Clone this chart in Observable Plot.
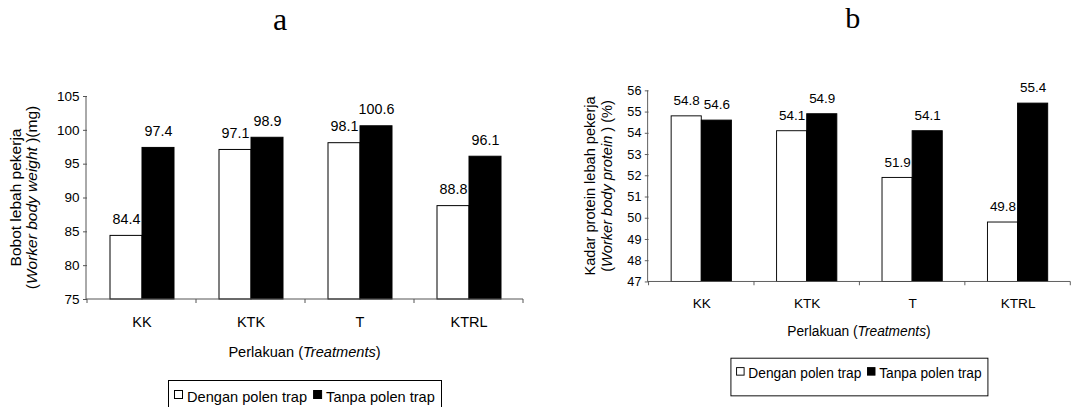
<!DOCTYPE html>
<html>
<head>
<meta charset="utf-8">
<script src="https://cdn.jsdelivr.net/npm/d3@7"></script>
<script src="https://cdn.jsdelivr.net/npm/@observablehq/plot@0.6"></script>
<style>
  html, body { margin: 0; padding: 0; background: #fff; overflow: hidden; }
  #wrap { position: relative; width: 1091px; height: 407px; overflow: hidden; background: #fff; }
  .panel { position: absolute; top: 0; }
  .panel svg { overflow: visible; }
</style>
</head>
<body>
<div id="wrap">
  <div class="panel" id="pa" style="left:0px"></div>
  <div class="panel" id="pb" style="left:545px"></div>
</div>
<script>
// ---- data ----
const categories = ["KK", "KTK", "T", "KTRL"];
const seriesNames = ["Dengan polen trap", "Tanpa polen trap"];
const weightDengan = [84.4, 97.1, 98.1, 88.8];
const weightTanpa = [97.4, 98.9, 100.6, 96.1];
const proteinDengan = [54.8, 54.1, 51.9, 49.8];
const proteinTanpa = [54.6, 54.9, 54.1, 55.4];
const weightTicks = [75, 80, 85, 90, 95, 100, 105];
const proteinTicks = [47, 48, 49, 50, 51, 52, 53, 54, 55, 56];
const titleA = "a";
const titleB = "b";
const yLabelA = [["Bobot lebah pekerja", false], ["(", false], ["Worker body weight", true], [" )(mg)", false]];
const yLabelB = [["Kadar protein lebah pekerja", false], ["(", false], ["Worker body protein", true], [" ) (%)", false]];
const xLabel = [["Perlakuan (", false], ["Treatments", true], [")", false]];

const FONT = "'Liberation Sans', Arial, Helvetica, sans-serif";
const AXIS = "#555";

function buildRows(dengan, tanpa) {
  const rows = [];
  categories.forEach((c, i) => {
    rows.push({cat: c, series: seriesNames[0], value: dengan[i]});
    rows.push({cat: c, series: seriesNames[1], value: tanpa[i]});
  });
  return rows;
}

function panel(el, opts) {
  const {dengan, tanpa, domain, ticks, width, marginLeft, marginRight, title, titleX, yLabel, yLabelX1, yLabelX2} = opts;
  const height = 407, marginTop = 96, marginBottom = 108;
  const rows = buildRows(dengan, tanpa);
  const chart = Plot.plot({
    width, height, marginTop, marginBottom, marginLeft, marginRight,
    style: {fontFamily: FONT, fontSize: "13.5px", background: "transparent", color: "#000"},
    fx: {domain: categories, padding: 0, label: null, axis: "bottom", tickSize: 0, tickPadding: 17},
    x: {domain: seriesNames, paddingInner: 0, paddingOuter: 0.7, axis: null},
    y: {domain, clamp: true, ticks, tickSize: 4, tickPadding: 4, label: null, tickFormat: d => String(d)},
    color: {domain: seriesNames, range: ["#ffffff", "#000000"]},
    marks: [
      Plot.barY(rows, {fx: "cat", x: "series", y: "value", fill: "series", stroke: "#000", strokeWidth: 1}),
      Plot.text(rows, {fx: "cat", x: "series", y: "value", text: d => d.value.toFixed(1), lineAnchor: "bottom", dy: -12, fontSize: 14.3, fill: "#000"})
    ]
  });
  el.appendChild(chart);
  const svg = d3.select(chart);
  // category labels a bit larger
  svg.selectAll("[aria-label='fx-axis tick label'] text").attr("font-size", 14.5);
  svg.selectAll("[aria-label='fx-axis tick label']").attr("font-size", 14.5);
  svg.selectAll("[aria-label='y-axis tick'] path, [aria-label='y-axis tick'] line").attr("stroke", AXIS);
  const fx = chart.scale("fx");
  const y = chart.scale("y");
  const y0 = y.apply(domain[0]), y1 = y.apply(domain[1]);
  const x0 = marginLeft, x1 = width - marginRight;
  const g = svg.append("g").attr("font-family", FONT).attr("text-anchor", "start");
  // axis lines
  g.append("line").attr("x1", x0).attr("x2", x0).attr("y1", y1).attr("y2", y0).attr("stroke", AXIS);
  g.append("line").attr("x1", x0).attr("x2", x1).attr("y1", y0).attr("y2", y0).attr("stroke", AXIS);
  // category boundary ticks
  const bounds = [fx.apply(categories[0])].concat(categories.map(c => fx.apply(c) + fx.bandwidth));
  bounds.forEach(b => g.append("line").attr("x1", b).attr("x2", b).attr("y1", y0).attr("y2", y0 + 4).attr("stroke", AXIS));
  // title
  g.append("text").attr("x", titleX).attr("y", 30).attr("text-anchor", "middle")
    .attr("font-family", "'Liberation Serif', 'Times New Roman', serif").attr("font-size", 32).text(title);
  // y label (two lines, rotated)
  const yc = (y0 + y1) / 2;
  g.append("text").attr("transform", `translate(${yLabelX1},${yc}) rotate(-90)`).attr("text-anchor", "middle")
    .attr("dy", "0.35em").attr("font-size", 15.5).text(yLabel[0][0]);
  const t2 = g.append("text").attr("transform", `translate(${yLabelX2},${yc}) rotate(-90)`).attr("text-anchor", "middle")
    .attr("dy", "0.35em").attr("font-size", 15.5);
  yLabel.slice(1).forEach(([s, it]) => t2.append("tspan").attr("font-style", it ? "italic" : "normal").text(s));
  // x label
  const xc = (x0 + x1) / 2;
  const t3 = g.append("text").attr("x", xc).attr("y", 357).attr("text-anchor", "middle").attr("font-size", 14.6);
  xLabel.forEach(([s, it]) => t3.append("tspan").attr("font-style", it ? "italic" : "normal").text(s));
  // legend
  const color = chart.scale("color");
  const lg = g.append("g").attr("text-anchor", "start");
  const box = lg.append("rect").attr("fill", "#fff").attr("stroke", "#000").attr("stroke-width", 1);
  let cx = 0;
  seriesNames.forEach((s) => {
    lg.append("rect").attr("x", cx + 0.5).attr("y", 390.5).attr("width", 8).attr("height", 8)
      .attr("fill", color.apply(s)).attr("stroke", "#000");
    cx += 13;
    const tx = lg.append("text").attr("x", cx).attr("y", 402).attr("text-anchor", "start").attr("font-size", 14.6).text(s);
    cx += tx.node().getComputedTextLength() + 6;
  });
  const total = cx - 6;
  const pad = 6;
  lg.attr("transform", `translate(${Math.round(xc - total / 2)},0)`);
  box.attr("x", -pad + 0.5).attr("y", 380.5).attr("width", Math.round(total + 2 * pad)).attr("height", 40);
}

panel(document.getElementById("pa"), {
  dengan: weightDengan, tanpa: weightTanpa, domain: [75, 105], ticks: weightTicks,
  width: 545, marginLeft: 86, marginRight: 22, title: titleA, titleX: 280,
  yLabel: yLabelA, yLabelX1: 16, yLabelX2: 32
});
panel(document.getElementById("pb"), {
  dengan: proteinDengan, tanpa: proteinTanpa, domain: [47, 56], ticks: proteinTicks,
  width: 580, marginLeft: 109, marginRight: 22, title: titleB, titleX: 327,
  yLabel: yLabelB, yLabelX1: 48, yLabelX2: 66
});
</script>
</body>
</html>
